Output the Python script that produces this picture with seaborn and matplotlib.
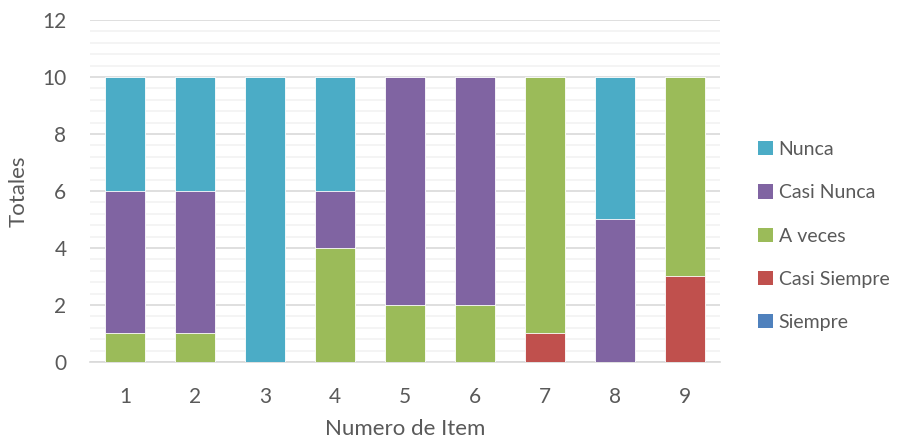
import numpy as np
import pandas as pd
import matplotlib
matplotlib.use("Agg")
import matplotlib.pyplot as plt
from matplotlib.ticker import MultipleLocator
from matplotlib.patches import Patch
import seaborn as sns

items = ["1", "2", "3", "4", "5", "6", "7", "8", "9"]
siempre = [0, 0, 0, 0, 0, 0, 0, 0, 0]
casi_siempre = [0, 0, 0, 0, 0, 0, 1, 0, 3]
a_veces = [1, 1, 0, 4, 2, 2, 9, 0, 7]
casi_nunca = [5, 5, 0, 2, 8, 8, 0, 5, 0]
nunca = [4, 4, 10, 4, 0, 0, 0, 5, 0]

series = ["Siempre", "Casi Siempre", "A veces", "Casi Nunca", "Nunca"]
values = [siempre, casi_siempre, a_veces, casi_nunca, nunca]
colors = {
    "Siempre": "#4F81BD",
    "Casi Siempre": "#C0504D",
    "A veces": "#9BBB59",
    "Casi Nunca": "#8064A2",
    "Nunca": "#4BACC6",
}

sns.set_theme(style="white")
plt.rcParams["font.family"] = ["Lato", "DejaVu Sans"]
text_color = "#595959"

fig = plt.figure(figsize=(9.04, 4.42), dpi=100)
ax = fig.add_axes([0.0996, 0.181, 0.6966, 0.774])

# stacked bars: draw cumulative totals from the top segment down
cum = np.cumsum(np.array(values), axis=0)
for i in range(len(series) - 1, -1, -1):
    df = pd.DataFrame({"item": items, "total": cum[i]})
    sns.barplot(data=df, x="item", y="total", color=colors[series[i]],
                saturation=1, width=0.57, edgecolor="white", linewidth=0.6,
                ax=ax, zorder=3)

ax.set_ylim(0, 12)
ax.set_xlim(-0.5, len(items) - 0.5)
ax.yaxis.set_major_locator(MultipleLocator(2))
ax.yaxis.set_minor_locator(MultipleLocator(0.4))
ax.grid(which="major", axis="y", color="#D9D9D9", linewidth=1.2, zorder=0)
ax.grid(which="minor", axis="y", color="#F2F2F2", linewidth=1.2, zorder=0)
ax.set_axisbelow(True)
for s in ["top", "right", "left"]:
    ax.spines[s].set_visible(False)
ax.spines["bottom"].set_color("#D9D9D9")
ax.spines["bottom"].set_linewidth(1.2)
ax.tick_params(axis="both", which="both", length=0, labelsize=15,
               labelcolor=text_color)
ax.tick_params(axis="x", pad=18)
ax.tick_params(axis="y", pad=17)
ax.set_xlabel("Numero de Item", fontsize=16, color=text_color, labelpad=9)
ax.set_ylabel("Totales", fontsize=16, color=text_color, labelpad=10)

handles = [Patch(facecolor=colors[s], edgecolor="none") for s in reversed(series)]
leg = fig.legend(handles, list(reversed(series)), loc="center left",
                 bbox_to_anchor=(0.828, 0.466), frameon=False, fontsize=14,
                 labelcolor=text_color, handlelength=0.75, handleheight=0.75,
                 handletextpad=0.3, labelspacing=1.35, borderpad=0)

fig.savefig("out.png", dpi=100)
